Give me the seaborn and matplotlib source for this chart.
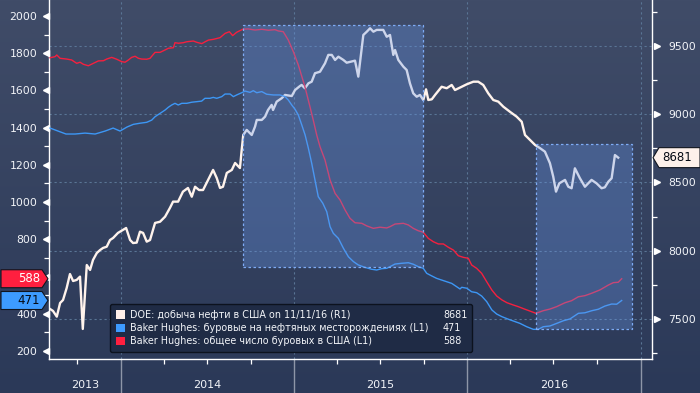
import numpy as np
import matplotlib
matplotlib.use("Agg")
import matplotlib.pyplot as plt
import matplotlib.transforms as mtransforms
from matplotlib.patches import Rectangle, Polygon, Patch
import seaborn as sns

# ---------------- data (decimal years) ----------------
prod_t = [2013.592, 2013.609, 2013.631, 2013.650, 2013.667, 2013.688, 2013.707, 2013.725, 2013.746, 2013.765,
          2013.781, 2013.804, 2013.823, 2013.840, 2013.862, 2013.881, 2013.898, 2013.919, 2013.938, 2013.956,
          2013.984, 2014.031, 2014.054, 2014.071, 2014.092, 2014.111, 2014.129, 2014.150, 2014.169, 2014.198,
          2014.227, 2014.256, 2014.284, 2014.302, 2014.331, 2014.359, 2014.388, 2014.410, 2014.429, 2014.452,
          2014.475, 2014.504, 2014.533, 2014.554, 2014.573, 2014.590, 2014.612, 2014.641, 2014.660, 2014.688,
          2014.698, 2014.707, 2014.727, 2014.756, 2014.775, 2014.785, 2014.814, 2014.833, 2014.850, 2014.871,
          2014.879, 2014.900, 2014.929, 2014.948, 2014.987, 2015.006, 2015.035, 2015.044, 2015.063, 2015.083,
          2015.102, 2015.121, 2015.150, 2015.179, 2015.198, 2015.218, 2015.237, 2015.256, 2015.285, 2015.304,
          2015.352, 2015.371, 2015.400, 2015.420, 2015.439, 2015.458, 2015.477, 2015.515, 2015.535, 2015.554,
          2015.573, 2015.583, 2015.602, 2015.631, 2015.650, 2015.669, 2015.688, 2015.708, 2015.727, 2015.746,
          2015.762, 2015.775, 2015.795, 2015.814, 2015.852, 2015.881, 2015.910, 2015.929, 2015.968, 2015.997,
          2016.035, 2016.063, 2016.092, 2016.121, 2016.150, 2016.179, 2016.208, 2016.246, 2016.285, 2016.314,
          2016.333, 2016.362, 2016.391, 2016.420, 2016.448, 2016.477, 2016.496, 2016.512, 2016.531, 2016.564,
          2016.583, 2016.602, 2016.621, 2016.650, 2016.679, 2016.717, 2016.746, 2016.775, 2016.794, 2016.814,
          2016.833, 2016.852, 2016.871]
prod_v = [7573, 7559, 7517, 7617, 7639, 7727, 7829, 7778, 7786, 7810,
          7427, 7895, 7859, 7932, 7983, 8005, 8020, 8029, 8078, 8093,
          8130, 8166, 8078, 8056, 8059, 8139, 8130, 8066, 8078, 8203,
          8212, 8249, 8313, 8359, 8359, 8432, 8459, 8395, 8468, 8444,
          8444, 8518, 8591, 8532, 8459, 8468, 8569, 8591, 8642, 8605,
          8737, 8847, 8884, 8847, 8908, 8957, 8957, 8981, 9030, 9067,
          9030, 9091, 9116, 9140, 9132, 9176, 9206, 9213, 9189, 9225,
          9237, 9299, 9310, 9372, 9433, 9433, 9396, 9420, 9396, 9376,
          9391, 9274, 9579, 9603, 9628, 9603, 9616, 9616, 9566, 9579,
          9433, 9469, 9396, 9347, 9323, 9225, 9152, 9127, 9140, 9103,
          9181, 9103, 9108, 9140, 9200, 9189, 9213, 9176, 9200, 9218,
          9237, 9237, 9213, 9152, 9103, 9091, 9054, 9017, 8981, 8944,
          8847, 8810, 8774, 8750, 8725, 8640, 8542, 8432, 8493, 8518,
          8468, 8457, 8603, 8530, 8468, 8518, 8493, 8457, 8464, 8505,
          8530, 8700, 8681]

oil_t = [2013.592, 2013.638, 2013.684, 2013.737, 2013.794, 2013.852, 2013.910, 2013.956, 2013.996, 2014.037,
         2014.073, 2014.111, 2014.150, 2014.179, 2014.198, 2014.227, 2014.256, 2014.275, 2014.294, 2014.313,
         2014.332, 2014.352, 2014.381, 2014.410, 2014.439, 2014.467, 2014.486, 2014.515, 2014.534, 2014.554,
         2014.583, 2014.602, 2014.631, 2014.650, 2014.669, 2014.698, 2014.717, 2014.746, 2014.765, 2014.785,
         2014.814, 2014.842, 2014.881, 2014.919, 2014.948, 2014.967, 2014.987, 2015.006, 2015.025, 2015.045,
         2015.064, 2015.083, 2015.102, 2015.121, 2015.140, 2015.166, 2015.189, 2015.208, 2015.227, 2015.256,
         2015.285, 2015.314, 2015.343, 2015.371, 2015.410, 2015.448, 2015.477, 2015.506, 2015.535, 2015.554,
         2015.583, 2015.621, 2015.660, 2015.688, 2015.717, 2015.746, 2015.766, 2015.795, 2015.823, 2015.852,
         2015.881, 2015.910, 2015.939, 2015.958, 2015.968, 2015.997, 2016.025, 2016.054, 2016.083, 2016.112,
         2016.142, 2016.170, 2016.200, 2016.238, 2016.277, 2016.304, 2016.343, 2016.381, 2016.410, 2016.438,
         2016.477, 2016.516, 2016.554, 2016.593, 2016.641, 2016.679, 2016.718, 2016.756, 2016.794, 2016.833,
         2016.862, 2016.891]
oil_v = [1398, 1382, 1366, 1366, 1371, 1366, 1382, 1398, 1382, 1404,
         1418, 1424, 1429, 1441, 1459, 1477, 1495, 1510, 1522, 1531,
         1522, 1531, 1531, 1537, 1540, 1543, 1558, 1558, 1563, 1558,
         1567, 1581, 1581, 1567, 1576, 1588, 1597, 1590, 1599, 1588,
         1594, 1580, 1576, 1576, 1567, 1549, 1522, 1499, 1468, 1414,
         1361, 1289, 1209, 1119, 1029, 994, 948, 868, 832, 805,
         752, 706, 680, 662, 649, 639, 635, 642, 644, 653,
         667, 671, 674, 666, 653, 644, 617, 603, 590, 581,
         572, 563, 545, 533, 542, 537, 518, 513, 495, 465,
         420, 398, 384, 370, 357, 348, 330, 316, 316, 330,
         334, 348, 362, 372, 402, 405, 416, 424, 441, 452,
         451, 471]

tot_t = [2013.592, 2013.621, 2013.631, 2013.650, 2013.688, 2013.717, 2013.746, 2013.765, 2013.784, 2013.813,
         2013.842, 2013.871, 2013.900, 2013.919, 2013.948, 2013.977, 2014.006, 2014.025, 2014.044, 2014.063,
         2014.083, 2014.102, 2014.121, 2014.150, 2014.169, 2014.198, 2014.227, 2014.256, 2014.275, 2014.304,
         2014.313, 2014.333, 2014.361, 2014.381, 2014.419, 2014.439, 2014.468, 2014.487, 2014.506, 2014.535,
         2014.573, 2014.602, 2014.627, 2014.646, 2014.669, 2014.704, 2014.736, 2014.775, 2014.814, 2014.852,
         2014.890, 2014.910, 2014.938, 2014.967, 2014.996, 2015.025, 2015.063, 2015.092, 2015.111, 2015.131,
         2015.150, 2015.179, 2015.208, 2015.237, 2015.266, 2015.295, 2015.323, 2015.352, 2015.391, 2015.420,
         2015.458, 2015.496, 2015.535, 2015.554, 2015.583, 2015.631, 2015.660, 2015.688, 2015.717, 2015.746,
         2015.775, 2015.804, 2015.833, 2015.862, 2015.891, 2015.920, 2015.948, 2015.977, 2016.006, 2016.025,
         2016.054, 2016.083, 2016.112, 2016.142, 2016.170, 2016.200, 2016.229, 2016.265, 2016.294, 2016.333,
         2016.371, 2016.396, 2016.438, 2016.477, 2016.516, 2016.564, 2016.602, 2016.641, 2016.679, 2016.718,
         2016.766, 2016.814, 2016.843, 2016.871, 2016.891]
tot_v = [1776, 1782, 1791, 1773, 1769, 1764, 1746, 1752, 1741, 1733,
         1746, 1759, 1760, 1769, 1778, 1768, 1755, 1752, 1764, 1778,
         1784, 1773, 1769, 1768, 1773, 1805, 1805, 1818, 1827, 1830,
         1857, 1854, 1857, 1862, 1866, 1859, 1852, 1862, 1871, 1875,
         1884, 1907, 1916, 1895, 1913, 1929, 1931, 1925, 1929, 1924,
         1927, 1920, 1916, 1871, 1809, 1737, 1620, 1513, 1441, 1361,
         1298, 1226, 1119, 1047, 1011, 957, 913, 889, 886, 872,
         859, 865, 861, 868, 882, 886, 877, 859, 846, 838,
         805, 787, 775, 775, 757, 742, 712, 703, 698, 662,
         644, 617, 572, 527, 495, 474, 459, 447, 438, 424,
         411, 402, 416, 425, 438, 459, 470, 491, 497, 510,
         528, 554, 567, 569, 588]

year_labels = ["2013", "2014", "2015", "2016"]
left_ticks = [200, 400, 600, 800, 1000, 1200, 1400, 1600, 1800, 2000]
right_ticks = [7500, 8000, 8500, 9000, 9500]
legend_labels = ["DOE: добыча нефти в США on 11/11/16 (R1)",
                 "Baker Hughes: буровые на нефтяных месторождениях (L1)",
                 "Baker Hughes: общее число буровых в США (L1)"]
legend_values = ["8681", "471", "588"]

# ---------------- style ----------------
WHITE = "#fff3ec"
BLUE = "#3d97f5"
RED = "#f5203f"
GRID = "#5a7595"
TXT = "#f2f4f8"

plt.rcParams["font.family"] = ["DejaVu Sans"]

W, H = 700, 393
fig = plt.figure(figsize=(W / 100, H / 100), dpi=100)

bg = fig.add_axes([0, 0, 1, 1], zorder=-10)
top = np.array([0x40, 0x4c, 0x68]) / 255
bot = np.array([0x2b, 0x39, 0x58]) / 255
tt = np.linspace(0, 1, 256)[:, None, None]
bg.imshow(top * (1 - tt) + bot * tt, aspect="auto", extent=[0, 1, 0, 1], interpolation="bilinear")
bg.set_axis_off()

L, R, B = 49, 652, 359
ax = fig.add_axes([L / W, (H - B) / H, (R - L) / W, B / H])
ax2 = ax.twinx()
ax.set_zorder(ax2.get_zorder() + 1)
ax.patch.set_visible(False)
ax2.patch.set_visible(False)

sns.lineplot(x=prod_t, y=prod_v, ax=ax2, color=WHITE, linewidth=1.7, estimator=None, sort=False, zorder=3)
sns.lineplot(x=oil_t, y=oil_v, ax=ax, color=BLUE, linewidth=1.0, estimator=None, sort=False, zorder=3)
sns.lineplot(x=tot_t, y=tot_v, ax=ax, color=RED, linewidth=1.0, estimator=None, sort=False, zorder=3)

ax.set_xlim(2013.586, 2017.066)
ax.set_ylim(156.5, 2086.5)
ax2.set_ylim(7207, 9835)

# grid (dashed)
for v in right_ticks:
    ax2.axhline(v, color=GRID, lw=0.8, ls=(0, (2, 2.5)), zorder=0)
for yr in [2014, 2015, 2016, 2017]:
    ax2.axvline(yr, color=GRID, lw=0.8, ls=(0, (2, 2.5)), zorder=0)

# highlight boxes
box_fc = (104 / 255, 152 / 255, 235 / 255, 0.33)
for (x0, x1, y0, y1) in [(2014.707, 2015.745, 651, 1952), (2016.397, 2016.951, 318, 1312)]:
    ax.add_patch(Rectangle((x0, y0), x1 - x0, y1 - y0, facecolor=box_fc, edgecolor="#7eabf5",
                           lw=0.9, ls=(0, (2, 2)), zorder=5))

# spines
for a in (ax, ax2):
    a.spines["top"].set_visible(False)
ax.spines["right"].set_visible(False)
ax2.spines["left"].set_visible(False)
ax2.spines["bottom"].set_visible(False)
ax.spines["left"].set_color("white")
ax.spines["bottom"].set_color("white")
ax2.spines["right"].set_color("white")
for s in (ax.spines["left"], ax.spines["bottom"], ax2.spines["right"]):
    s.set_linewidth(1.0)

# y ticks (the 600 label sits under the 588 badge in the reference)
ax.set_yticks(left_ticks)
ax.set_yticklabels(["" if v == 600 else str(v) for v in left_ticks])
ax.set_yticks([v + 100 for v in left_ticks[:-1]], minor=True)
ax.tick_params(axis="y", which="major", length=0, pad=8.5, labelsize=7.8, labelcolor=TXT)
ax.tick_params(axis="y", which="minor", length=3.5, width=0.9, color="white", direction="out")
ax2.set_yticks(right_ticks)
ax2.set_yticklabels([str(v) for v in right_ticks])
ax2.set_yticks([7250, 7750, 8250, 8750, 9250, 9750], minor=True)
ax2.tick_params(axis="y", which="major", length=0, pad=11.5, labelsize=7.8, labelcolor=TXT)
ax2.tick_params(axis="y", which="minor", length=3.5, width=0.9, color="white", direction="out")

# triangle tick pointers
tl = mtransforms.blended_transform_factory(ax.transAxes, ax.transData)
tr = mtransforms.blended_transform_factory(ax2.transAxes, ax2.transData)
ax.plot([-0.0055] * len(left_ticks), left_ticks, ls="none", marker="<", ms=4.5, color="white",
        transform=tl, clip_on=False)
ax2.plot([1.0075] * len(right_ticks), right_ticks, ls="none", marker=">", ms=4.5, color="white",
         transform=tr, clip_on=False)

# x axis: year labels + quarterly minor ticks + separators
ax.set_xticks([2013.793, 2014.5, 2015.5, 2016.5])
ax.set_xticklabels(year_labels)
ax.tick_params(axis="x", which="major", length=0, pad=15, labelsize=8, labelcolor=TXT)
ax.set_xticks([2013.748, 2014.247, 2014.496, 2014.749, 2015.247, 2015.496, 2015.749,
               2016.247, 2016.497, 2016.75], minor=True)
ax.tick_params(axis="x", which="minor", length=3.5, width=0.9, color="white", direction="out")
tx = mtransforms.blended_transform_factory(ax.transData, ax.transAxes)
for yr in [2014, 2015, 2016, 2017]:
    ax.plot([yr, yr], [0, -40 / B], color="#8e96a8", lw=1.0, transform=tx, clip_on=False)

ax.set_xlabel("")
ax.set_ylabel("")
ax2.set_ylabel("")

# legend
handles = [Patch(facecolor=c, edgecolor="none") for c in ["#fff0ea", "#3d9bff", "#ff1f3f"]]
leg = ax.legend(handles, legend_labels, loc="upper left",
                bbox_to_anchor=(110 / W, (H - 304) / H, 362 / W, 0), bbox_transform=fig.transFigure,
                mode="expand", fontsize=6.9, frameon=True, fancybox=True, facecolor="#1f2b45",
                edgecolor="#0c121e", framealpha=1, labelcolor=TXT, handlelength=1.0, handleheight=1.0,
                handletextpad=0.5, borderpad=0.6, labelspacing=0.35, borderaxespad=0)
leg.set_zorder(20)
leg.get_frame().set_linewidth(1.0)

fig.canvas.draw()
for txt, val in zip(leg.get_texts(), legend_values):
    xb, yb = txt.get_transform().transform(txt.get_position())
    ax.text(443 / W, yb / H, val, transform=fig.transFigure, ha="left", va="baseline",
            fontsize=6.9, color=TXT, zorder=25)

# value badges
ident = mtransforms.IdentityTransform()


def badge(axis, value, text, side, fc, tc):
    y = axis.transData.transform((2015.0, value))[1]
    h = 9
    if side == "left":
        pts = [(1, y - h), (42, y - h), (48, y), (42, y + h), (1, y + h)]
        tx_, ha = 40, "right"
    else:
        pts = [(653, y), (659, y - h - 1), (700, y - h - 1), (700, y + h + 1), (659, y + h + 1)]
        tx_, ha = 662, "left"
    poly = Polygon(pts, closed=True, facecolor=fc, edgecolor="#10151f", lw=0.8, transform=ident, zorder=30)
    fig.add_artist(poly)
    fig.text(tx_ / W, y / H, text, ha=ha, va="center", fontsize=8.5, color=tc, zorder=31)


badge(ax, 588, "588", "left", "#ff1f3f", "white")
badge(ax, 471, "471", "left", "#3d9bff", "#050a14")
badge(ax2, 8681, "8681", "right", "#fdf0ea", "#050a14")

fig.savefig("out.png", dpi=100)
